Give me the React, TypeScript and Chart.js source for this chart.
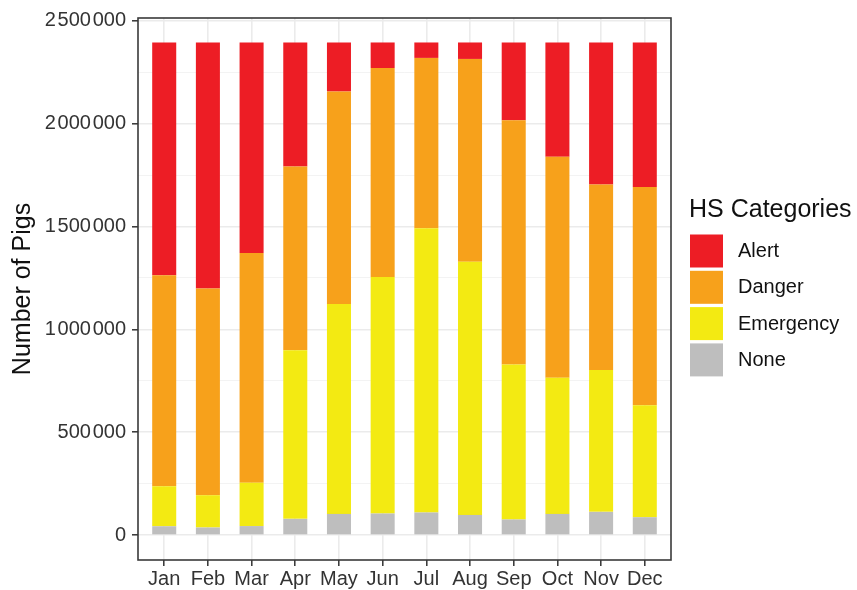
import React, { useEffect, useRef } from "react";
import { Chart, registerables } from "chart.js";

Chart.register(...registerables);

const months = ["Jan", "Feb", "Mar", "Apr", "May", "Jun", "Jul", "Aug", "Sep", "Oct", "Nov", "Dec"];
const alertVals = [1132000, 1196000, 1024000, 603000, 238000, 124000, 75000, 80000, 378000, 556000, 690000, 703000];
const dangerVals = [1026000, 1005000, 1116000, 893000, 1034000, 1016000, 828000, 986000, 1188000, 1074000, 902000, 1061000];
const emergencyVals = [194000, 157000, 211000, 820000, 1020000, 1150000, 1382000, 1231000, 753000, 662000, 690000, 544000];
const noneVals = [43000, 37000, 44000, 79000, 103000, 105000, 110000, 98000, 76000, 103000, 113000, 87000];
const yTickValues = [0, 250000, 500000, 750000, 1000000, 1250000, 1500000, 1750000, 2000000, 2250000, 2500000];

const FONT = "'Liberation Sans', Arial, Helvetica, sans-serif";
const COLORS = {
  Alert: "#ED1D25",
  Danger: "#F7A11B",
  Emergency: "#F3EA12",
  None: "#BEBEBE",
};

function fmt(v: number): string {
  const s = String(Math.round(v));
  return s.replace(/\B(?=(\d{3})+(?!\d))/g, "\u200A");
}

const legendOrder: Array<keyof typeof COLORS> = ["Alert", "Danger", "Emergency", "None"];

const extrasPlugin = {
  id: "extras",
  afterDraw(chart: any) {
    const ctx = chart.ctx;
    const a = chart.chartArea;
    ctx.save();
    ctx.strokeStyle = "#3a3a3a";
    ctx.lineWidth = 1.6;
    ctx.strokeRect(a.left, a.top, a.right - a.left, a.bottom - a.top);
    // legend
    ctx.fillStyle = "#111";
    ctx.textBaseline = "middle";
    ctx.textAlign = "left";
    ctx.font = `25px ${FONT}`;
    ctx.fillText("HS Categories", 689, 210);
    ctx.font = `20px ${FONT}`;
    legendOrder.forEach((name, i) => {
      const y = 234.5 + i * 36.3;
      ctx.fillStyle = COLORS[name];
      ctx.fillRect(690, y, 33, 33);
      ctx.fillStyle = "#111";
      ctx.fillText(name, 738, y + 17);
    });
    ctx.restore();
  },
};

export default function App() {
  const ref = useRef<HTMLCanvasElement>(null);
  useEffect(() => {
    if (!ref.current) return;
    const mk = (arr: number[]) => arr.map((v, i) => ({ x: i + 1, y: v }));
    const chart = new Chart(ref.current, {
      type: "bar",
      data: {
        datasets: [
          { label: "None", data: mk(noneVals), backgroundColor: COLORS.None },
          { label: "Emergency", data: mk(emergencyVals), backgroundColor: COLORS.Emergency },
          { label: "Danger", data: mk(dangerVals), backgroundColor: COLORS.Danger },
          { label: "Alert", data: mk(alertVals), backgroundColor: COLORS.Alert },
        ] as any,
      },
      options: {
        animation: false,
        responsive: false,
        devicePixelRatio: 1,
        datasets: { bar: { barPercentage: 0.55, categoryPercentage: 1, borderWidth: 0 } } as any,
        layout: { padding: { top: 16, right: 186, left: 0, bottom: 0 } },
        plugins: { legend: { display: false }, tooltip: { enabled: false } },
        scales: {
          x: {
            type: "linear",
            stacked: true,
            offset: false,
            min: 0.4,
            max: 12.6,
            afterBuildTicks: (scale: any) => {
              scale.ticks = months.map((_, i) => ({ value: i + 1 }));
            },
            afterFit: (scale: any) => {
              scale.height = 30;
            },
            ticks: {
              autoSkip: false,
              maxRotation: 0,
              padding: 1,
              color: "#333",
              font: { family: FONT, size: 20 },
              callback: (v: any) => months[Math.round(Number(v)) - 1] ?? "",
            },
            grid: {
              offset: false,
              color: "#EBEBEB",
              lineWidth: 1.6,
              tickColor: "#333",
              tickWidth: 1.5,
              tickLength: 6,
            },
            border: { display: false },
          },
          y: {
            type: "linear",
            stacked: true,
            min: -121000,
            max: 2514000,
            afterBuildTicks: (scale: any) => {
              scale.ticks = yTickValues.map((v) => ({ value: v }));
            },
            afterFit: (scale: any) => {
              scale.width = 138;
            },
            ticks: {
              padding: 6,
              color: "#333",
              font: { family: FONT, size: 20 },
              callback: (v: any) => (Number(v) % 500000 === 0 ? fmt(Number(v)) : ""),
            },
            grid: {
              color: (c: any) => (c.tick && c.tick.value % 500000 === 0 ? "#EBEBEB" : "#F2F2F2"),
              lineWidth: (c: any) => (c.tick && c.tick.value % 500000 === 0 ? 1.6 : 0.9),
              tickColor: (c: any) => (c.tick && c.tick.value % 500000 === 0 ? "#333" : "rgba(0,0,0,0)"),
              tickWidth: 1.5,
              tickLength: 6,
            },
            border: { display: false },
            title: {
              display: true,
              text: "Number of Pigs",
              color: "#111",
              font: { family: FONT, size: 25 },
              padding: { top: 8, bottom: 0 },
            },
          },
        },
      } as any,
      plugins: [extrasPlugin],
    });
    return () => chart.destroy();
  }, []);
  return (
    <div style={{ position: "fixed", left: 0, top: 0, width: 857, height: 590, background: "#fff" }}>
      <canvas ref={ref} width={857} height={590} />
    </div>
  );
}
